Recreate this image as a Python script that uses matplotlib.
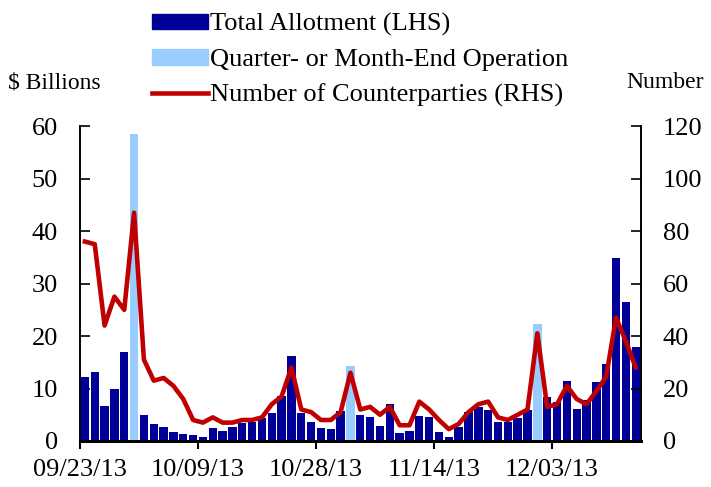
import numpy as np
import matplotlib
matplotlib.use("Agg")
import matplotlib.pyplot as plt
from matplotlib.patches import Patch
from matplotlib.lines import Line2D

# Total allotment, $ billions (one bar per business day)
allotment = [12.2, 13.1, 6.7, 9.9, 17.0, 58.5, 4.9, 3.2, 2.7, 1.8,
             1.3, 1.2, 0.8, 2.4, 1.9, 2.6, 3.4, 3.6, 4.4, 5.3,
             8.6, 16.1, 5.3, 3.6, 2.5, 2.2, 5.7, 14.3, 5.0, 4.5,
             2.9, 7.1, 1.5, 1.9, 4.8, 4.5, 1.8, 0.7, 2.6, 5.6,
             6.5, 5.9, 3.7, 3.7, 4.3, 5.9, 22.3, 8.3, 7.5, 11.4,
             6.1, 7.8, 11.3, 14.6, 34.8, 26.5, 18.0]
# quarter- or month-end operations (09/30, 10/31, 11/29)
month_end = [5, 27, 46]
# number of counterparties (RHS)
counterparties = [76, 75, 44, 55, 50, 87, 31, 23, 24, 21,
                  16, 8, 7, 9, 7, 7, 8, 8, 9, 14,
                  17, 28, 12, 11, 8, 8, 11, 26, 12, 13,
                  10, 13, 6, 6, 15, 12, 8, 4.5, 6.5, 11,
                  14, 15, 9, 8, 10, 12, 41, 13, 14, 21,
                  16, 14, 19, 24.5, 47, 38, 28]
tick_idx = [0, 12, 24, 36, 48]
tick_labels = ["09/23/13", "10/09/13", "10/28/13", "11/14/13", "12/03/13"]

navy = "#000099"
light = "#99CCFF"
red = "#C00000"

plt.rcParams["font.family"] = ["Liberation Serif", "DejaVu Serif"]
plt.rcParams["font.size"] = 19

fig = plt.figure(figsize=(7.11, 4.87), dpi=100)
ax = fig.add_axes([0.1125, 0.0945, 0.7885, 0.6465])

x = np.arange(len(allotment))
colors = [light if i in month_end else navy for i in x]
ax.bar(x, allotment, width=0.85, color=colors, zorder=2)
ax.set_xlim(-0.5, len(allotment) - 0.5)
ax.set_ylim(0, 60)
ax.set_yticks(range(0, 61, 10))

ax2 = ax.twinx()
ax2.plot(x, counterparties, color=red, lw=3.3, solid_joinstyle="round", zorder=3)
ax2.set_ylim(0, 120)
ax2.set_yticks(range(0, 121, 20))

ax.set_xticks([i - 0.5 for i in tick_idx])
ax.set_xticklabels(tick_labels)

for a in (ax, ax2):
    a.spines["top"].set_visible(False)
    a.spines["bottom"].set_linewidth(2)
    a.spines["left"].set_linewidth(1.2)
    a.spines["right"].set_linewidth(1.2)
ax.tick_params(axis="y", direction="in", length=7, width=1.2, pad=16)
ax2.tick_params(axis="y", direction="in", length=7, width=1.2, pad=16)
ax.tick_params(axis="x", direction="out", length=6, width=1.5, pad=7)

fig.text(0.011, 0.83, "$ Billions", ha="left", va="center", fontsize=17)
fig.text(0.99, 0.83, "Number", ha="right", va="center", fontsize=17)

handles = [Patch(color=navy), Patch(color=light),
           Line2D([], [], color=red, lw=3.3)]
labels = ["Total Allotment (LHS)", "Quarter- or Month-End Operation",
          "Number of Counterparties (RHS)"]
fig.legend(handles, labels, loc="upper left", bbox_to_anchor=(0.214, 0.973),
           frameon=False, handlelength=2.1, handleheight=0.55,
           handletextpad=0.08, labelspacing=0.48, borderaxespad=0,
           borderpad=0)

fig.savefig("out.png", dpi=100)
